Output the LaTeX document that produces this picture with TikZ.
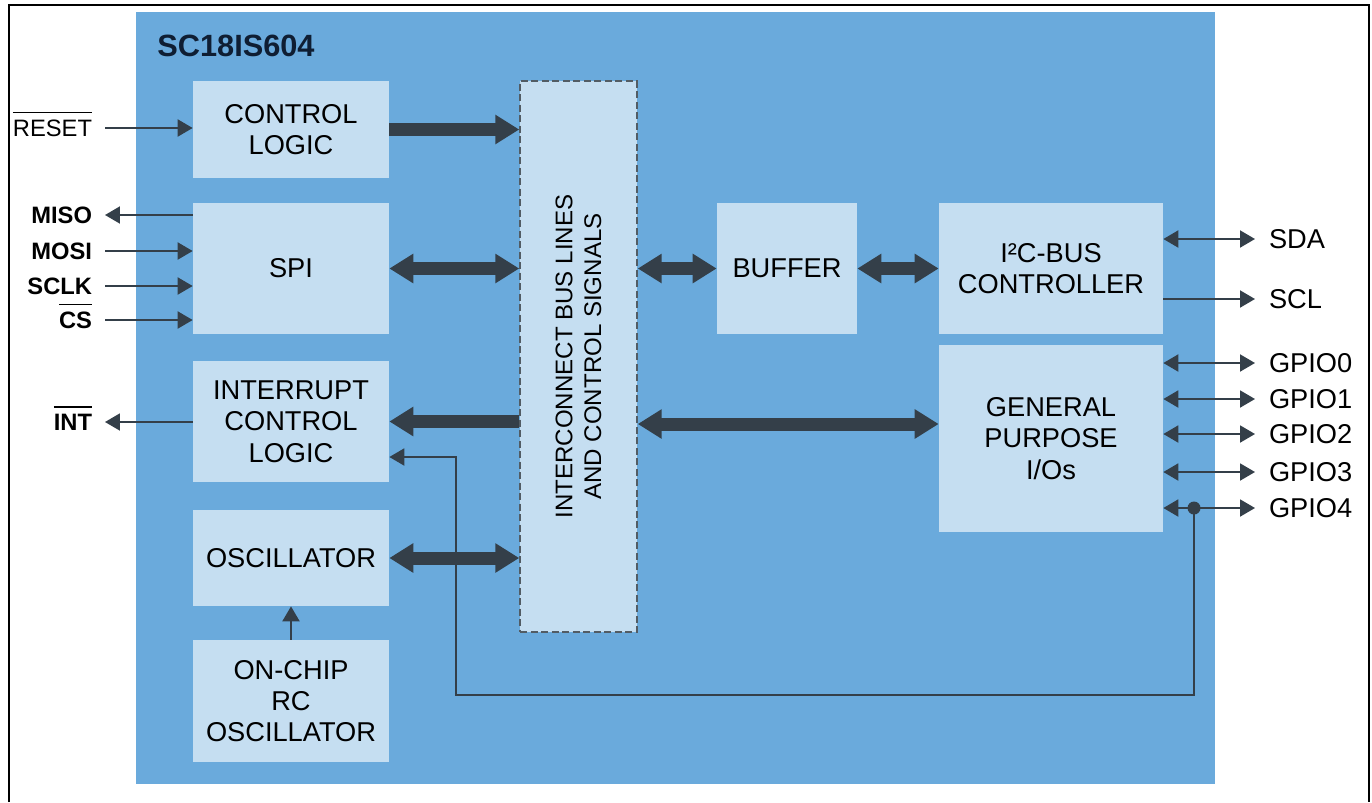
\documentclass[tikz,border=0pt]{standalone}
\usepackage{fontspec}
\setmainfont{Liberation Sans}
\usepackage{tikz}
\usetikzlibrary{arrows.meta, positioning}
\definecolor{chipblue}{HTML}{6AAADC}
\definecolor{blkfill}{HTML}{C5DEF1}
\definecolor{wire}{HTML}{343F49}
\definecolor{titlenavy}{HTML}{0F1E33}
\newcommand{\pinbar}[1]{\setbox0=\hbox{#1}\rlap{\rule[1.4\ht0]{\wd0}{0.7pt}}\box0}

\begin{document}
\begin{tikzpicture}[x=0.02cm, y=-0.02cm,
			blk/.style={fill=blkfill, draw=none, align=center, inner sep=0pt,
				font=\fontsize{15.5}{17.8}\selectfont},
			busline/.style={wire, line width=0.26cm, >={Triangle[length=0.48cm, width=0.56cm]}},
			sig/.style={wire, line width=0.04cm, >={Triangle[length=0.3cm, width=0.34cm]}},
			pinl/.style={anchor=east, inner sep=0pt, outer sep=0.26cm, text height=0.34cm,
				text depth=0pt, font=\fontsize{13.5}{16}\selectfont},
			pinr/.style={anchor=west, inner sep=0pt, outer sep=0.28cm, text height=0.39cm,
				text depth=0pt, font=\fontsize{15.5}{18}\selectfont}]

			\useasboundingbox (0,0) rectangle (1372,802);
			\draw[black, line width=0.05cm] (9,802) -- (9,5) -- (1369,5) -- (1369,802);
			\fill[chipblue] (136,12) rectangle (1215,784);
			\node[anchor=base west, inner sep=0pt, text=titlenavy,
				font=\bfseries\fontsize{17.5}{20}\selectfont] (title) at (157,56) {SC18IS604};

			% blocks
			\node[blk, minimum width=3.92cm, minimum height=1.94cm] (ctrl) at (291,129.5) {CONTROL\\LOGIC};
			\node[blk, minimum width=3.92cm, minimum height=2.62cm] (spi) at (291,268.5) {SPI};
			\node[blk, minimum width=3.92cm, minimum height=2.42cm] (intr) at (291,421.5) {INTERRUPT\\CONTROL\\LOGIC};
			\node[blk, minimum width=3.92cm, minimum height=1.92cm] (osc) at (291,558) {OSCILLATOR};
			\node[blk, minimum width=3.92cm, minimum height=2.44cm] (rc) at (291,701) {ON-CHIP\\RC\\OSCILLATOR};
			\node[blk, minimum width=2.34cm, minimum height=11.02cm, draw=wire!85,
				line width=0.03cm, dash pattern=on 0.14cm off 0.07cm] (bus) at (578.5,356.5) {};
			\node[rotate=90, align=center, font=\fontsize{13.7}{16.4}\selectfont] (bustxt) at (bus) {INTERCONNECT BUS LINES\\AND CONTROL SIGNALS};
			\node[blk, minimum width=2.8cm, minimum height=2.62cm] (buf) at (787,268.5) {BUFFER};
			\node[blk, minimum width=4.48cm, minimum height=2.62cm] (i2c) at (1051,268.5) {I²C-BUS\\CONTROLLER};
			\node[blk, minimum width=4.48cm, minimum height=3.74cm] (gpio) at (1051,438.5) {GENERAL\\PURPOSE\\I/Os};

			% internal buses
			\draw[busline, ->] (ctrl.east) -- (ctrl.east -| bus.west);
			\draw[busline, <->] (spi.east) -- (spi.east -| bus.west);
			\draw[busline, <-] (intr.east) -- (intr.east -| bus.west);
			\draw[busline, <->] (osc.east) -- (osc.east -| bus.west);
			\draw[busline, <->] (bus.east |- buf.west) -- (buf.west);
			\draw[busline, <->] (buf.east) -- (i2c.west);
			\draw[busline, <->] (bus.east |- 0,424) -- (gpio.west |- 0,424);
			\draw[sig, ->] (rc) -- (osc);

			% left pins
			\node[pinl] (reset) at (105,128) {\pinbar{RESET}};
			\node[pinl, font=\bfseries\fontsize{13.5}{16}\selectfont] (miso) at (105,215) {MISO};
			\node[pinl, font=\bfseries\fontsize{13.5}{16}\selectfont] (mosi) at (105,251) {MOSI};
			\node[pinl, font=\bfseries\fontsize{13.5}{16}\selectfont] (sclk) at (105,286) {SCLK};
			\node[pinl, font=\bfseries\fontsize{13.5}{16}\selectfont] (cs) at (105,320) {\pinbar{CS}};
			\node[pinl, font=\bfseries\fontsize{13.5}{16}\selectfont] (int) at (105,422) {\pinbar{INT}};
			\draw[sig, ->] (reset.east) -- (reset.east -| ctrl.west);
			\draw[sig, <-] (miso.east) -- (miso.east -| spi.west);
			\draw[sig, ->] (mosi.east) -- (mosi.east -| spi.west);
			\draw[sig, ->] (sclk.east) -- (sclk.east -| spi.west);
			\draw[sig, ->] (cs.east) -- (cs.east -| spi.west);
			\draw[sig, <-] (int.east) -- (int.east -| intr.west);

			% right pins
			\node[pinr] (sda) at (1255,239) {SDA};
			\node[pinr] (scl) at (1255,299) {SCL};
			\draw[sig, <->] (i2c.east |- sda.west) -- (sda.west);
			\draw[sig, ->] (i2c.east |- scl.west) -- (scl.west);
			\foreach \n/\y in {0/363, 1/399, 2/434, 3/472, 4/508} {
				\node[pinr] (gp\n) at (1255,\y) {GPIO\n};
				\draw[sig, <->] (gpio.east |- gp\n.west) -- (gp\n.west);
			}

			% GPIO4 back to interrupt logic
			\coordinate (tap) at (gp4.west -| 1194,0);
			\coordinate (fbturn) at (456,695);
			\coordinate (intin) at (intr.east |- 0,457);
			\fill[wire] (tap) circle (0.13cm);
			\draw[sig, ->] (tap) |- (fbturn) |- (intin);
		\end{tikzpicture}
\end{document}
